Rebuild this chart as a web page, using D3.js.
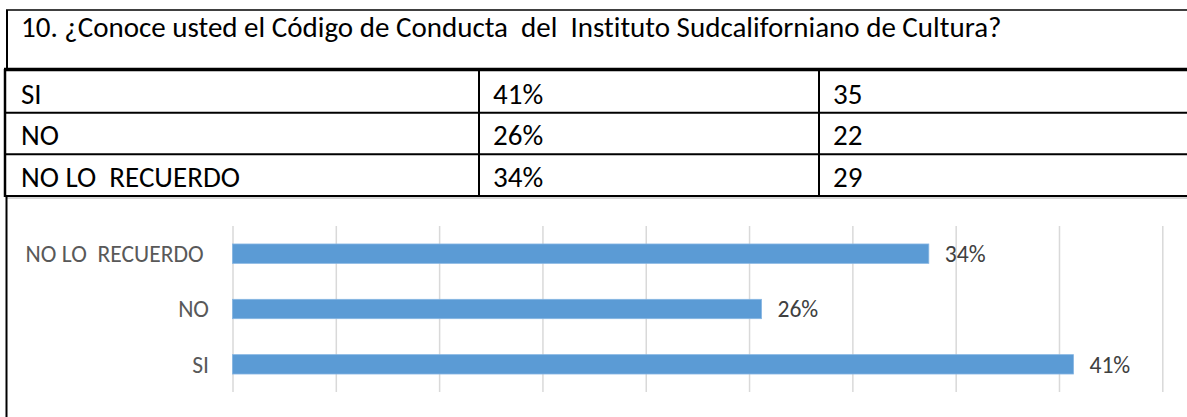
<!DOCTYPE html>
<html>
<head>
<meta charset="utf-8">
<script src="https://cdn.jsdelivr.net/npm/d3@7"></script>
<style>
    body { margin: 0; background: #fff; }
    svg text { font-family: Carlito, Calibri, Lato, sans-serif; white-space: pre; font-variant-ligatures: none; }
</style>
</head>
<body>
<svg id="chart" width="1187" height="417"></svg>
<script>
var question = "10. ¿Conoce usted el Código de Conducta  del  Instituto Sudcaliforniano de Cultura?";
var categories = ["SI", "NO", "NO LO  RECUERDO"];
var shares = [0.407, 0.256, 0.337];
var percentLabels = ["41%", "26%", "34%"];
var counts = [35, 22, 29];
var gridTicks = [0, 0.05, 0.10, 0.15, 0.20, 0.25, 0.30, 0.35, 0.40, 0.45];

var rows = categories.map(function (c, i) {
    return { key: c, share: shares[i], label: percentLabels[i], count: counts[i] };
});

var svg = d3.select('#chart');
var g = svg.append('g');

// ---- title box ----
g.append('line').attr('x1', 6).attr('x2', 1187).attr('y1', 10).attr('y2', 10)
    .attr('stroke', '#000').attr('stroke-width', 1.5);
g.append('line').attr('x1', 7).attr('x2', 7).attr('y1', 10).attr('y2', 69)
    .attr('stroke', '#000').attr('stroke-width', 2);
g.append('text')
    .attr('x', 21)
    .attr('y', 37)
    .attr('xml:space', 'preserve')
    .text(question)
    .style('font-size', '29px')
    .attr('fill', '#000');

// ---- table ----
var rowScale = d3.scaleBand()
    .domain(categories)
    .range([71, 196]);

var colX = [5, 479, 819];

// row separators
g.selectAll('.rowline')
    .data(rows)
    .enter().append('line')
    .attr('x1', 4).attr('x2', 1187)
    .attr('y1', function (d) { return rowScale(d.key) + rowScale.bandwidth(); })
    .attr('y2', function (d) { return rowScale(d.key) + rowScale.bandwidth(); })
    .attr('stroke', '#000').attr('stroke-width', 2);

g.append('line').attr('x1', 4).attr('x2', 1187).attr('y1', 69.5).attr('y2', 69.5)
    .attr('stroke', '#000').attr('stroke-width', 3.5);
g.append('line').attr('x1', 7).attr('x2', 1187).attr('y1', 198).attr('y2', 198)
    .attr('stroke', '#c9c9c9').attr('stroke-width', 1.5);

// column separators
g.selectAll('.colline')
    .data(colX)
    .enter().append('line')
    .attr('x1', function (d) { return d; }).attr('x2', function (d) { return d; })
    .attr('y1', 69).attr('y2', 197)
    .attr('stroke', '#000').attr('stroke-width', function (d, i) { return i == 0 ? 2.5 : 2; });

var cells = g.selectAll('.cell')
    .data(rows)
    .enter().append('g')
    .attr('transform', function (d) { return 'translate(0,' + (rowScale(d.key) + rowScale.bandwidth() - 9) + ')'; });

cells.append('text').attr('x', 21).attr('xml:space', 'preserve')
    .text(function (d) { return d.key; }).style('font-size', '29px');
cells.append('text').attr('x', 493)
    .text(function (d) { return d.label; }).style('font-size', '29px');
cells.append('text').attr('x', 833)
    .text(function (d) { return d.count; }).style('font-size', '29px');

// chart frame left edge
g.append('line').attr('x1', 6.5).attr('x2', 6.5).attr('y1', 196).attr('y2', 417)
    .attr('stroke', '#000').attr('stroke-width', 2);

// ---- bar chart ----
var x = d3.scaleLinear()
    .domain([0, 0.45])
    .range([232.5, 1162.3]);

var y = d3.scaleBand()
    .domain(categories.slice().reverse())
    .range([226, 392])
    .paddingInner(0.65)
    .paddingOuter(0.325);

var grid = d3.axisBottom(x)
    .tickValues(gridTicks)
    .tickSize(-(392 - 226))
    .tickFormat('');

var gridG = g.append('g').attr('transform', 'translate(0,392)').call(grid);
gridG.select('.domain').remove();
gridG.selectAll('.tick line').attr('stroke', '#d9d9d9').attr('stroke-width', 1.5);

g.selectAll('.bar')
    .data(rows)
    .enter().append('rect')
    .attr('x', x(0))
    .attr('y', function (d) { return y(d.key); })
    .attr('width', function (d) { return x(d.share) - x(0); })
    .attr('height', y.bandwidth())
    .attr('fill', '#5b9bd5')
    .attr('stroke', '#86b5e2')
    .attr('stroke-width', 0.8);

// category labels (trailing space on long label, as in the source)
g.selectAll('.cat')
    .data(rows)
    .enter().append('text')
    .attr('x', 209)
    .attr('y', function (d) { return y(d.key) + y.bandwidth() / 2; })
    .attr('dy', '0.36em')
    .attr('text-anchor', 'end')
    .attr('xml:space', 'preserve')
    .text(function (d) { return d.key.length > 2 ? d.key + ' ' : d.key; })
    .style('font-size', '23.6px')
    .attr('fill', '#595959');

// value labels
g.selectAll('.val')
    .data(rows)
    .enter().append('text')
    .attr('x', function (d) { return x(d.share) + 16; })
    .attr('y', function (d) { return y(d.key) + y.bandwidth() / 2; })
    .attr('dy', '0.36em')
    .text(function (d) { return d.label; })
    .style('font-size', '23.6px')
    .attr('fill', '#404040');
</script>
</body>
</html>
